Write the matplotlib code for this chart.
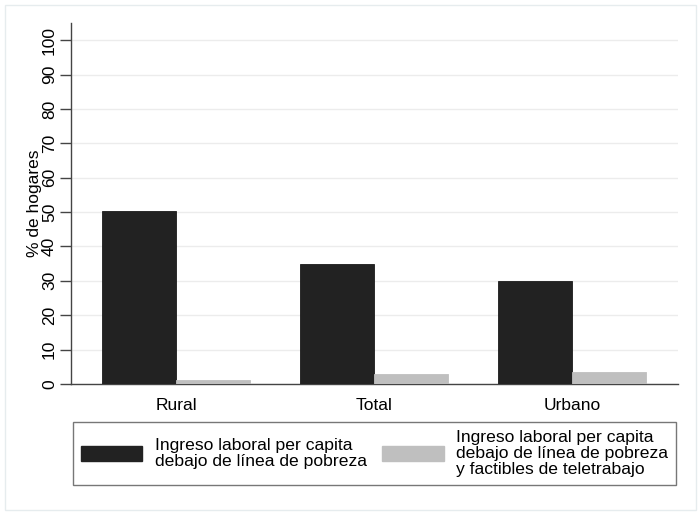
import matplotlib
matplotlib.use("Agg")
import matplotlib.pyplot as plt
from matplotlib.patches import Patch, Rectangle

categories = ["Rural", "Total", "Urbano"]
bajo_pobreza = [50.3, 34.9, 30.1]
teletrabajo = [1.3, 3.0, 3.5]
series_labels = [
    "Ingreso laboral per capita\ndebajo de línea de pobreza",
    "Ingreso laboral per capita\ndebajo de línea de pobreza\ny factibles de teletrabajo",
]
yticks = list(range(0, 101, 10))

plt.rcParams["font.family"] = ["Liberation Sans", "DejaVu Sans"]

BLACK = "#222222"
GRAY = "#bfbfbf"

fig = plt.figure(figsize=(7.0, 5.17), dpi=100)
ax = fig.add_axes([71 / 700, 1 - 384 / 517, (678 - 71) / 700, (384 - 23) / 517])

# light outer frame like the Stata graph region
fig.patches.append(Rectangle((5 / 700, 7 / 517), 691 / 700, 505 / 517,
                             transform=fig.transFigure, fill=False,
                             edgecolor="#e6ecee", linewidth=1))

x = list(range(len(categories)))
w = 0.375
ax.bar([i - w / 2 for i in x], bajo_pobreza, w, color=BLACK, edgecolor="#1a1a1a",
       linewidth=0.6, zorder=3)
ax.bar([i + w / 2 for i in x], teletrabajo, w, color=GRAY, edgecolor=GRAY,
       linewidth=0.6, zorder=3)

ax.set_xlim(-0.532, 2.537)
ax.set_ylim(0, 105)
ax.set_yticks(yticks)
ax.set_yticklabels([str(t) for t in yticks], rotation=90, va="center", fontsize=12.5)
ax.set_xticks(x)
ax.set_xticklabels(categories, fontsize=12.5)
ax.tick_params(axis="x", length=0, pad=10)
ax.tick_params(axis="y", length=8, width=1, color="#444444", pad=2)
ax.set_ylabel("% de hogares", fontsize=12.5, labelpad=0)

ax.grid(axis="y", color="#ececec", linewidth=1, zorder=0)
ax.set_axisbelow(True)
for s in ["top", "right"]:
    ax.spines[s].set_visible(False)
for s in ["left", "bottom"]:
    ax.spines[s].set_color("#444444")
    ax.spines[s].set_linewidth(1)

handles = [Patch(facecolor=BLACK, edgecolor=BLACK), Patch(facecolor=GRAY, edgecolor=GRAY)]
leg = fig.legend(handles, series_labels, ncol=2, loc="center",
                 bbox_to_anchor=(374.5 / 700, 1 - 453.5 / 517),
                 fontsize=12.6, frameon=True, fancybox=False, edgecolor="#555555",
                 handlelength=3.5, handleheight=1.0, handletextpad=0.7,
                 columnspacing=0.9, borderpad=0.45)
leg.get_frame().set_linewidth(1)
for t in leg.get_texts():
    t.set_linespacing(1.08)

fig.savefig("out.png", dpi=100)
